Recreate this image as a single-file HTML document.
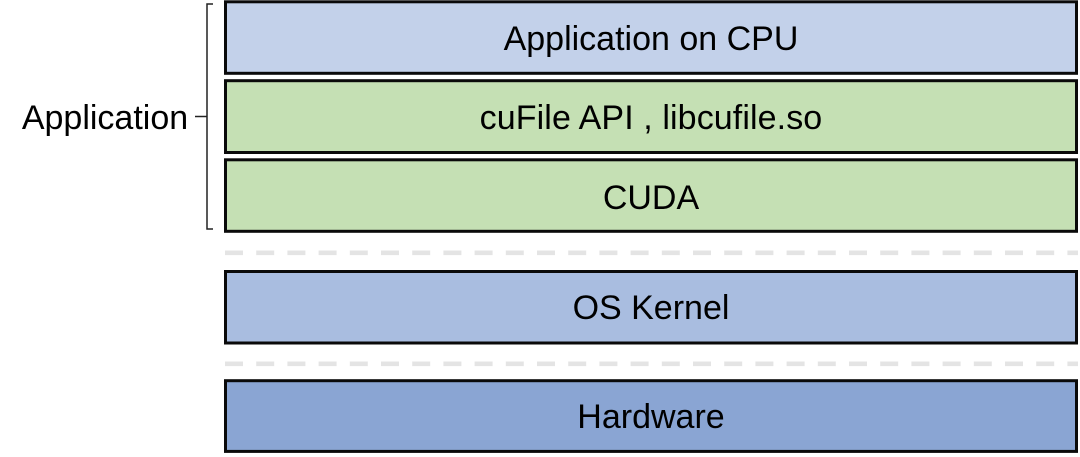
<!DOCTYPE html>
<html>
<head>
<meta charset="utf-8">
<style>
html,body{margin:0;padding:0;background:#fff;}
svg{display:block;}
text{font-family:"Liberation Sans",sans-serif;font-size:34px;fill:#000;text-anchor:middle;}
</style>
</head>
<body>
<svg width="1080" height="457" viewBox="0 0 1080 457" xmlns="http://www.w3.org/2000/svg">
<rect width="1080" height="457" fill="#fff"/>
<g stroke="#0a0a0a" stroke-width="3">
<rect x="225.500" y="1.800" width="851" height="71.500" fill="#c3d1ea"/>
<rect x="225.500" y="80.700" width="851" height="71.800" fill="#c5e0b4"/>
<rect x="225.500" y="159.800" width="851" height="71.500" fill="#c5e0b4"/>
<rect x="225.500" y="271.500" width="851" height="71.500" fill="#a9bde0"/>
<rect x="225.500" y="380.700" width="851" height="70.700" fill="#8aa5d3"/>
</g>
<g stroke="#e4e4e4" stroke-width="4.600" stroke-dasharray="18 13.200" fill="none">
<line x1="225" y1="252.800" x2="1078" y2="252.800"/>
<line x1="225" y1="363.800" x2="1078" y2="363.800"/>
</g>
<path d="M213 4 H207 V229 H213 M195 116.500 H207" fill="none" stroke="#222" stroke-width="1.500"/>
<text x="651" y="50">Application on CPU</text>
<text x="651" y="129" letter-spacing="0.100">cuFile API , libcufile.so</text>
<text x="651" y="209">CUDA</text>
<text x="651" y="319">OS Kernel</text>
<text x="651" y="428">Hardware</text>
<text x="105" y="129">Application</text>
</svg>
</body>
</html>
